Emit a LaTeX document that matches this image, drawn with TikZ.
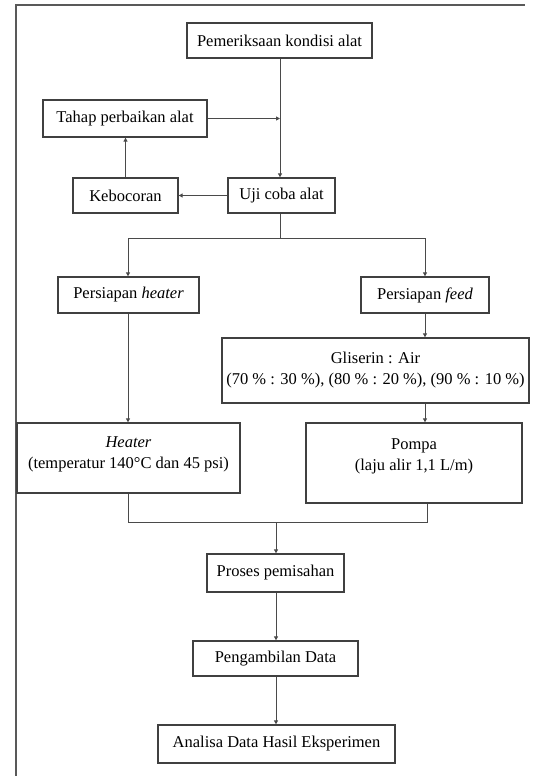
\documentclass[tikz,border=0pt]{standalone}
\usepackage{fontspec}
\setmainfont{Liberation Serif}
\usetikzlibrary{arrows.meta}
\definecolor{boxc}{HTML}{404040}
\definecolor{linec}{HTML}{4A4A4A}
\begin{document}
\begin{tikzpicture}[x=1pt,y=-1pt,
  bx/.style={draw=boxc,line width=1.3pt,inner sep=0pt,align=center,
    font=\fontsize{16.5}{21}\selectfont},
  cn/.style={draw=linec,line width=1pt},
  ar/.style={cn,-{Triangle[length=4pt,width=4pt]}}]
\fill[white] (0,0) rectangle (537,776);
\useasboundingbox (0,0) rectangle (537,776);
\draw[draw=black!65,line width=2pt] (16,776) -- (16,5) -- (525,5);
% nodes
\node[bx,minimum width=185,minimum height=35] (pem) at (279.5,40.5) {Pemeriksaan kondisi alat};
\node[bx,minimum width=164,minimum height=37] (tahap) at (125,118.5) {Tahap perbaikan alat};
\node[bx,minimum width=105,minimum height=35] (keb) at (125.5,195.5) {Kebocoran};
\node[bx,minimum width=107,minimum height=35] (uji) at (281.5,195.5) {Uji coba alat};
\node[bx,minimum width=141,minimum height=36] (ph) at (128.5,295) {Persiapan \textit{heater}};
\node[bx,minimum width=128,minimum height=36] (pf) at (425,295) {Persiapan \textit{feed}};
\node[bx,minimum width=307,minimum height=65] (gli) at (375.5,370.5) {Gliserin : Air\\(70 \% : 30 \%), (80 \% : 20 \%), (90 \% : 10 \%)};
\node[bx,minimum width=223,minimum height=70,text depth=10pt] (heat) at (128.5,458) {\textit{Heater}\\(temperatur 140°C dan 45 psi)};
\node[bx,minimum width=216,minimum height=80,text depth=16pt] (pompa) at (414,463) {Pompa\\(laju alir 1,1 L/m)};
\node[bx,minimum width=137,minimum height=38] (proses) at (275.5,573) {Proses pemisahan};
\node[bx,minimum width=165,minimum height=35] (peng) at (275.5,658.5) {Pengambilan Data};
\node[bx,minimum width=237,minimum height=38] (anal) at (276.5,744) {Analisa Data Hasil Eksperimen};
% coordinates
\coordinate (top) at (280,58);
\coordinate (s) at (280,238);
\coordinate (sl) at (128,238);
\coordinate (sr) at (425,238);
\coordinate (jl) at (128,522);
\coordinate (jr) at (427,522);
\coordinate (jc) at (276,522);
% connectors
\draw[ar] (pem.south -| top) -- (uji.north -| top);
\draw[ar] (tahap.east) -- (tahap.east -| top);
\draw[ar] (uji.west) -- (keb.east);
\draw[ar] (keb.north) -- (keb.north |- tahap.south);
\draw[cn] (uji.south -| s) -- (s);
\draw[cn] (sl) -- (sr);
\draw[ar] (sl) -- (sl |- ph.north);
\draw[ar] (sr) -- (sr |- pf.north);
\draw[ar] (pf.south -| sr) -- (gli.north -| sr);
\draw[ar] (gli.south -| sr) -- (pompa.north -| sr);
\draw[ar] (ph.south -| sl) -- (heat.north -| sl);
\draw[cn] (heat.south -| jl) -- (jl) -- (jr) -- (pompa.south -| jr);
\draw[ar] (jc) -- (proses.north -| jc);
\draw[ar] (proses.south -| jc) -- (peng.north -| jc);
\draw[ar] (peng.south -| jc) -- (anal.north -| jc);
\end{tikzpicture}
\end{document}
